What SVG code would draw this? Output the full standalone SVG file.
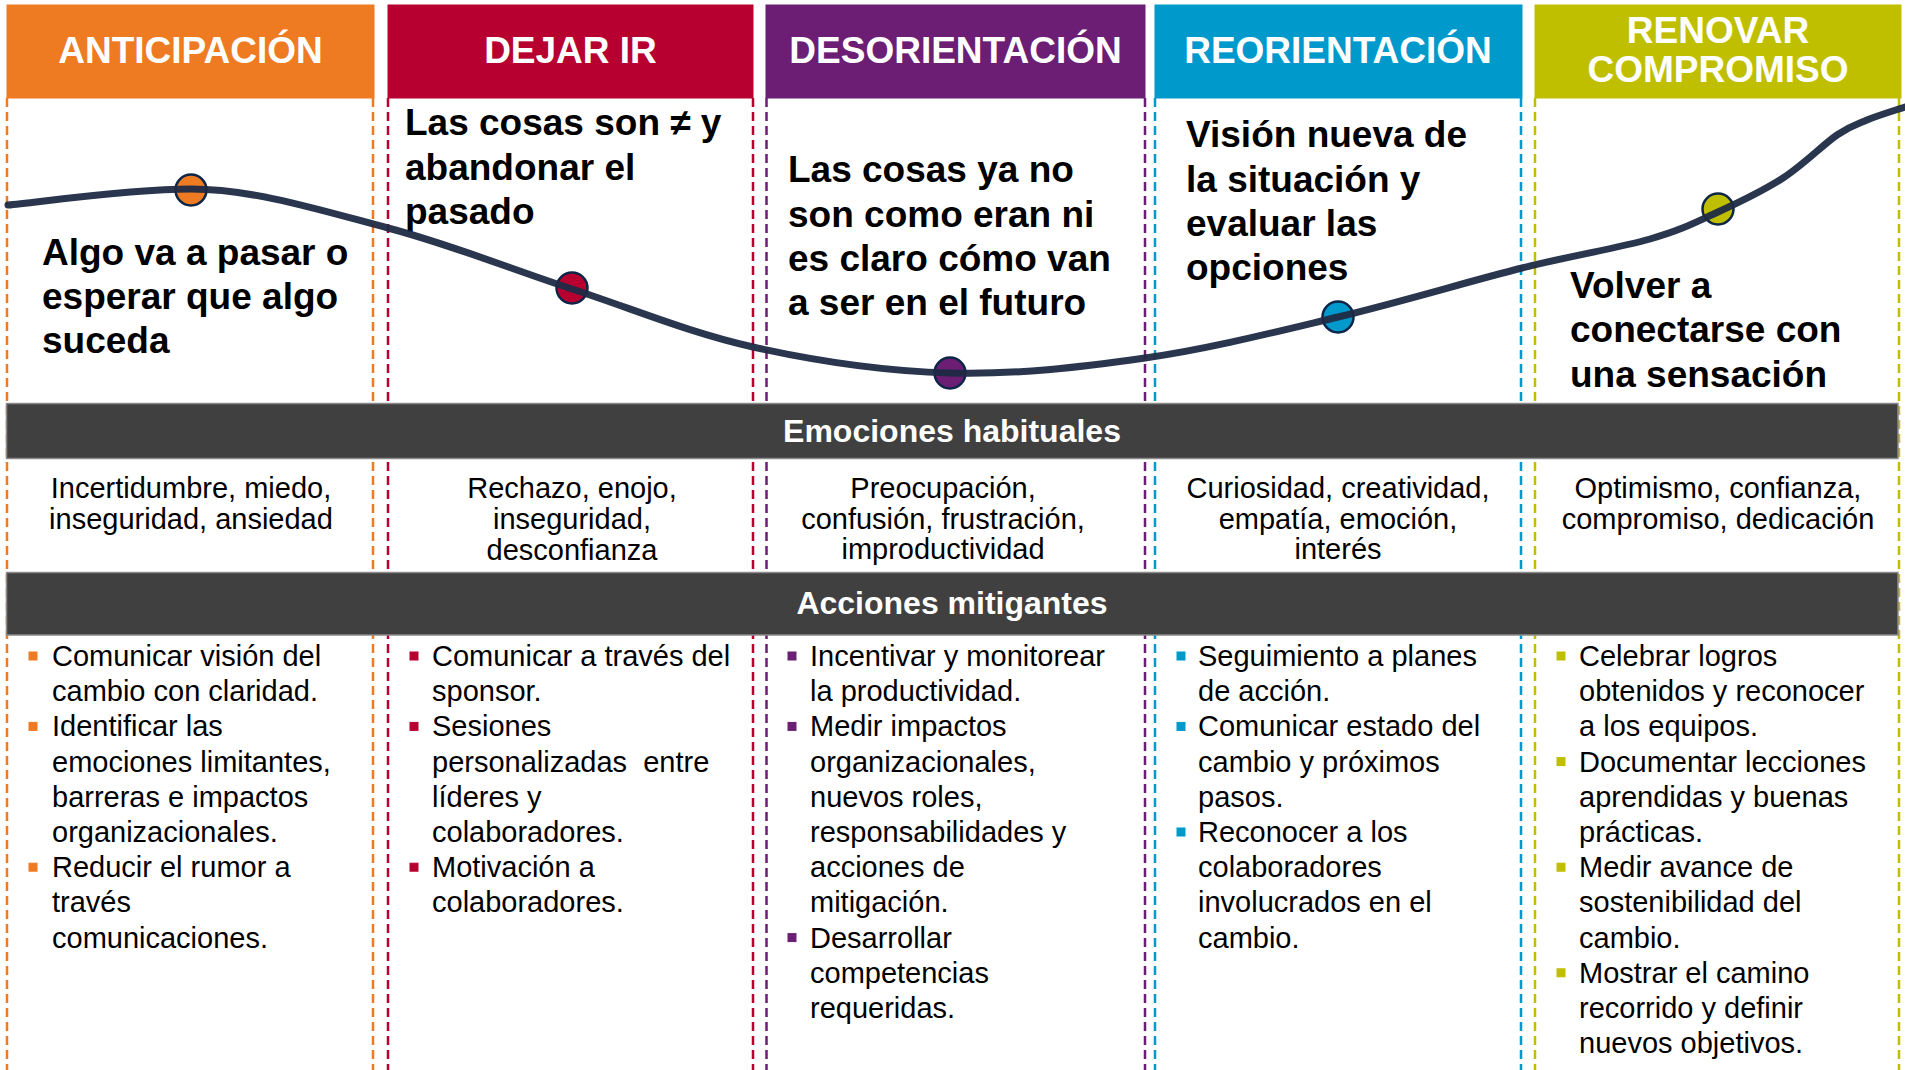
<svg xmlns="http://www.w3.org/2000/svg" width="1905" height="1070" viewBox="0 0 1905 1070">
<style>
.hd{font-family:"Liberation Sans",Arial,sans-serif;font-weight:bold;font-size:37px;fill:#fff;text-anchor:middle}
.big{font-family:"Liberation Sans",Arial,sans-serif;font-weight:bold;font-size:37px;fill:#000}
.emo{font-family:"Liberation Sans",Arial,sans-serif;font-size:29px;fill:#000;text-anchor:middle}
.act{font-family:"Liberation Sans",Arial,sans-serif;font-size:29px;fill:#000}
.bar{fill:#404040;stroke:#8a8a8a;stroke-width:1.5}
.bt{font-family:"Liberation Sans",Arial,sans-serif;font-weight:bold;font-size:32px;fill:#fff;text-anchor:middle}
.dash{stroke-width:2.5;stroke-dasharray:9 5;fill:none}
.dot{stroke:#0d2647;stroke-width:2.5}
.c1{fill:#EE7B22;stroke:#EE7B22}.c2{fill:#B80030;stroke:#B80030}.c3{fill:#6B1E74;stroke:#6B1E74}.c4{fill:#0099CC;stroke:#0099CC}.c5{fill:#BFBF00;stroke:#BFBF00}
</style>
<rect width="1905" height="1070" fill="#fff"/>
<!-- dashed column borders -->
<g id="dividers">
<line class="dash c1" x1="7" y1="98" x2="7" y2="1070" style="fill:none"/>
<line class="dash c1" x1="373" y1="98" x2="373" y2="1070" style="fill:none"/>
<line class="dash c2" x1="388" y1="98" x2="388" y2="1070" style="fill:none"/>
<line class="dash c2" x1="753" y1="98" x2="753" y2="1070" style="fill:none"/>
<line class="dash c3" x1="766.5" y1="98" x2="766.5" y2="1070" style="fill:none"/>
<line class="dash c3" x1="1145" y1="98" x2="1145" y2="1070" style="fill:none"/>
<line class="dash c4" x1="1155" y1="98" x2="1155" y2="1070" style="fill:none"/>
<line class="dash c4" x1="1521" y1="98" x2="1521" y2="1070" style="fill:none"/>
<line class="dash c5" x1="1535" y1="98" x2="1535" y2="1070" style="fill:none"/>
<line class="dash c5" x1="1899" y1="98" x2="1899" y2="1070" style="fill:none"/>
</g>
<!-- bars -->
<g id="bar-emociones">
<rect class="bar" x="6.5" y="403.5" width="1891.5" height="55"/>
<text class="bt" x="952" y="442">Emociones habituales</text>
</g>
<g id="bar-acciones">
<rect class="bar" x="6.5" y="572.5" width="1891.5" height="62.5"/>
<text class="bt" x="952" y="614">Acciones mitigantes</text>
</g>
<!-- columns -->
<g id="col-anticipacion">
<rect class="c1" x="7" y="5" width="367" height="93"/>
<text class="hd" x="190.5" y="63">ANTICIPACIÓN</text>
<text class="big" x="42"><tspan x="42" y="265">Algo va a pasar o</tspan><tspan x="42" y="309">esperar que algo</tspan><tspan x="42" y="353">suceda</tspan></text>
<text class="emo"><tspan x="191" y="498">Incertidumbre, miedo,</tspan><tspan x="191" y="529">inseguridad, ansiedad</tspan></text>
<rect class="c1" x="29" y="652" width="8" height="8"/>
<rect class="c1" x="29" y="722.4" width="8" height="8"/>
<rect class="c1" x="29" y="863.2" width="8" height="8"/>
<text class="act"><tspan x="52" y="666">Comunicar visión del</tspan><tspan x="52" y="701.2">cambio con claridad.</tspan><tspan x="52" y="736.4">Identificar las</tspan><tspan x="52" y="771.6">emociones limitantes,</tspan><tspan x="52" y="806.8">barreras e impactos</tspan><tspan x="52" y="842">organizacionales.</tspan><tspan x="52" y="877.2">Reducir el rumor a</tspan><tspan x="52" y="912.4">través</tspan><tspan x="52" y="947.6">comunicaciones.</tspan></text>
</g>
<g id="col-dejar-ir">
<rect class="c2" x="388" y="5" width="365" height="93"/>
<text class="hd" x="570.5" y="63">DEJAR IR</text>
<text class="big"><tspan x="405" y="135">Las cosas son ≠ y</tspan><tspan x="405" y="180">abandonar el</tspan><tspan x="405" y="224">pasado</tspan></text>
<text class="emo"><tspan x="572" y="498">Rechazo, enojo,</tspan><tspan x="572" y="529">inseguridad,</tspan><tspan x="572" y="560">desconfianza</tspan></text>
<rect class="c2" x="410" y="652" width="8" height="8"/>
<rect class="c2" x="410" y="722.4" width="8" height="8"/>
<rect class="c2" x="410" y="863.2" width="8" height="8"/>
<text class="act" xml:space="preserve"><tspan x="432" y="666">Comunicar a través del</tspan><tspan x="432" y="701.2">sponsor.</tspan><tspan x="432" y="736.4">Sesiones</tspan><tspan x="432" y="771.6">personalizadas  entre</tspan><tspan x="432" y="806.8">líderes y</tspan><tspan x="432" y="842">colaboradores.</tspan><tspan x="432" y="877.2">Motivación a</tspan><tspan x="432" y="912.4">colaboradores.</tspan></text>
</g>
<g id="col-desorientacion">
<rect class="c3" x="766" y="5" width="379" height="93"/>
<text class="hd" x="955.5" y="63">DESORIENTACIÓN</text>
<text class="big"><tspan x="788" y="182">Las cosas ya no</tspan><tspan x="788" y="226.5">son como eran ni</tspan><tspan x="788" y="271">es claro cómo van</tspan><tspan x="788" y="315">a ser en el futuro</tspan></text>
<text class="emo"><tspan x="943" y="498">Preocupación,</tspan><tspan x="943" y="528.5">confusión, frustración,</tspan><tspan x="943" y="559">improductividad</tspan></text>
<rect class="c3" x="788" y="652" width="8" height="8"/>
<rect class="c3" x="788" y="722.4" width="8" height="8"/>
<rect class="c3" x="788" y="933.6" width="8" height="8"/>
<text class="act"><tspan x="810" y="666">Incentivar y monitorear</tspan><tspan x="810" y="701.2">la productividad.</tspan><tspan x="810" y="736.4">Medir impactos</tspan><tspan x="810" y="771.6">organizacionales,</tspan><tspan x="810" y="806.8">nuevos roles,</tspan><tspan x="810" y="842">responsabilidades y</tspan><tspan x="810" y="877.2">acciones de</tspan><tspan x="810" y="912.4">mitigación.</tspan><tspan x="810" y="947.6">Desarrollar</tspan><tspan x="810" y="982.8">competencias</tspan><tspan x="810" y="1018">requeridas.</tspan></text>
</g>
<g id="col-reorientacion">
<rect class="c4" x="1155" y="5" width="367" height="93"/>
<text class="hd" x="1338" y="63">REORIENTACIÓN</text>
<text class="big"><tspan x="1186" y="147">Visión nueva de</tspan><tspan x="1186" y="192">la situación y</tspan><tspan x="1186" y="236">evaluar las</tspan><tspan x="1186" y="280">opciones</tspan></text>
<text class="emo"><tspan x="1338" y="498">Curiosidad, creatividad,</tspan><tspan x="1338" y="528.5">empatía, emoción,</tspan><tspan x="1338" y="559">interés</tspan></text>
<rect class="c4" x="1177" y="652" width="8" height="8"/>
<rect class="c4" x="1177" y="722.4" width="8" height="8"/>
<rect class="c4" x="1177" y="828" width="8" height="8"/>
<text class="act"><tspan x="1198" y="666">Seguimiento a planes</tspan><tspan x="1198" y="701.2">de acción.</tspan><tspan x="1198" y="736.4">Comunicar estado del</tspan><tspan x="1198" y="771.6">cambio y próximos</tspan><tspan x="1198" y="806.8">pasos.</tspan><tspan x="1198" y="842">Reconocer a los</tspan><tspan x="1198" y="877.2">colaboradores</tspan><tspan x="1198" y="912.4">involucrados en el</tspan><tspan x="1198" y="947.6">cambio.</tspan></text>
</g>
<g id="col-renovar">
<rect class="c5" x="1535" y="5" width="366" height="93"/>
<text class="hd"><tspan x="1718" y="43">RENOVAR</tspan><tspan x="1718" y="82">COMPROMISO</tspan></text>
<text class="big"><tspan x="1570" y="298">Volver a</tspan><tspan x="1570" y="342">conectarse con</tspan><tspan x="1570" y="387">una sensación</tspan></text>
<text class="emo"><tspan x="1718" y="498">Optimismo, confianza,</tspan><tspan x="1718" y="529">compromiso, dedicación</tspan></text>
<rect class="c5" x="1557" y="652" width="8" height="8"/>
<rect class="c5" x="1557" y="757.6" width="8" height="8"/>
<rect class="c5" x="1557" y="863.2" width="8" height="8"/>
<rect class="c5" x="1557" y="968.8" width="8" height="8"/>
<text class="act"><tspan x="1579" y="666">Celebrar logros</tspan><tspan x="1579" y="701.2">obtenidos y reconocer</tspan><tspan x="1579" y="736.4">a los equipos.</tspan><tspan x="1579" y="771.6">Documentar lecciones</tspan><tspan x="1579" y="806.8">aprendidas y buenas</tspan><tspan x="1579" y="842">prácticas.</tspan><tspan x="1579" y="877.2">Medir avance de</tspan><tspan x="1579" y="912.4">sostenibilidad del</tspan><tspan x="1579" y="947.6">cambio.</tspan><tspan x="1579" y="982.8">Mostrar el camino</tspan><tspan x="1579" y="1018">recorrido y definir</tspan><tspan x="1579" y="1053.2">nuevos objetivos.</tspan></text>
</g>
<!-- curve with stage markers -->
<g id="markers">
<circle class="dot" cx="191" cy="190" r="15.5" fill="#EE7B22"/>
<circle class="dot" cx="572" cy="288" r="15.5" fill="#B80030"/>
<circle class="dot" cx="950" cy="373" r="15.5" fill="#6B1E74"/>
<circle class="dot" cx="1338" cy="317" r="15.5" fill="#0099CC"/>
<circle class="dot" cx="1718" cy="209" r="15.5" fill="#BFBF00"/>
</g>
<g id="connectors">
<path d="M8,205 C38.5,202.3 128,189 191,189 C254,189 324.5,211.3 388,228 C451.5,244.7 511.2,269.2 572,289 C632.8,308.8 690,333 753,347 C816,361 884.7,371.2 950,373 C1015.3,374.8 1080.3,367.3 1145,358 C1209.7,348.7 1275.2,332 1338,317 C1400.8,302 1470,281 1522,268 C1574,255 1617.3,248.3 1650,239 C1682.7,229.7 1695.8,222.2 1718,212 C1740.2,201.8 1763.2,190.8 1783,178 C1802.8,165.2 1823,144.7 1837,135 C1851,125.3 1855.7,124.7 1867,120 C1878.3,115.3 1898.7,109.2 1905,107" fill="none" stroke="#1f2a44" stroke-width="7" stroke-linecap="round" opacity="0.95"/>
</g>
</svg>
